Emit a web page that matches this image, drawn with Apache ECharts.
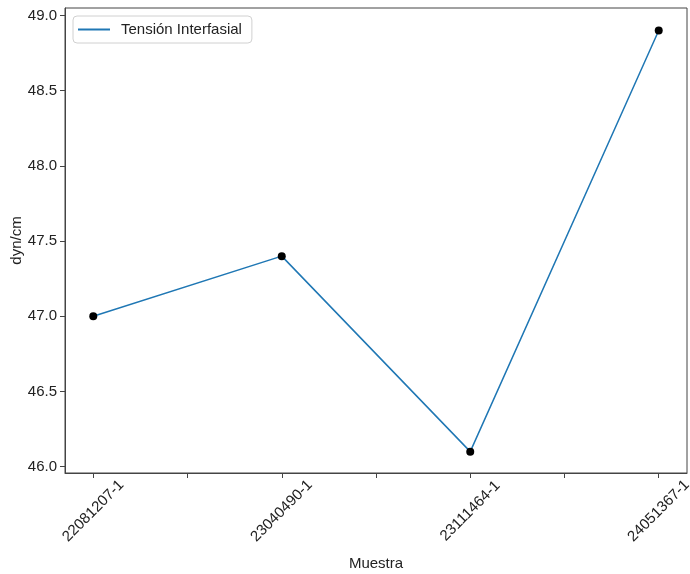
<!DOCTYPE html>
<html><head><meta charset="utf-8">
<script src="https://cdn.jsdelivr.net/npm/echarts@6/dist/echarts.min.js"></script>
<style>html,body{margin:0;padding:0;background:#fff}#c{width:690px;height:574px}</style>
</head><body><div id="c"></div>
<script>
const categories = ['22081207-1', '23040490-1', '23111464-1', '24051367-1'];
const values = [47.0, 47.4, 46.1, 48.9];
const yTicks = [46.0, 46.5, 47.0, 47.5, 48.0, 48.5, 49.0];
const xTicks = [0, 0.5, 1, 1.5, 2, 2.5, 3];
const seriesName = 'Tensión Interfasial';

const pts = values.map((v, i) => [i, v]);
const font = 'Liberation Sans, Arial, Helvetica, sans-serif';
const chart = echarts.init(document.getElementById('c'), null, {renderer: 'canvas'});
chart.setOption({
  animation: false,
  textStyle: {fontFamily: font},
  grid: {left: 65, top: 8, right: 3, bottom: 101, show: true, borderColor: '#444', borderWidth: 1, containLabel: false, outerBoundsMode: 'none'},
  legend: {
    left: 73, top: 16, padding: [6, 10, 6, 5], borderColor: '#d0d0d0', borderWidth: 1, borderRadius: 4,
    itemWidth: 32, itemHeight: 2, itemGap: 10,
    data: [{name: seriesName, icon: 'rect', itemStyle: {color: '#1f77b4'}}],
    textStyle: {fontFamily: font, fontSize: 15, color: '#222', padding: [0, 0, 0, 6]}
  },
  xAxis: {
    type: 'value', min: -0.15, max: 3.15,
    name: 'Muestra', nameLocation: 'middle', nameGap: 83, nameMoveOverlap: false,
    nameTextStyle: {fontFamily: font, fontSize: 15, color: '#222'},
    splitLine: {show: false},
    axisLine: {show: true, onZero: false, lineStyle: {color: '#444'}},
    axisTick: {show: true, length: 5, customValues: xTicks, lineStyle: {color: '#444'}},
    axisLabel: {
      rotate: 45, margin: 38, align: 'center', verticalAlign: 'middle',
      fontFamily: font, fontSize: 15, color: '#222',
      customValues: [0, 1, 2, 3],
      formatter: v => categories[Math.round(v)] || ''
    }
  },
  yAxis: {
    type: 'value', min: 45.958, max: 49.05,
    name: 'dyn/cm', nameLocation: 'middle', nameGap: 41, nameRotate: 90, nameMoveOverlap: false,
    nameTextStyle: {fontFamily: font, fontSize: 15, color: '#222'},
    splitLine: {show: false},
    axisLine: {show: true, onZero: false, lineStyle: {color: '#444'}},
    axisTick: {show: true, length: 5, customValues: yTicks, lineStyle: {color: '#444'}},
    axisLabel: {
      margin: 8, fontFamily: font, fontSize: 15, color: '#222',
      customValues: yTicks,
      formatter: v => v.toFixed(1)
    }
  },
  series: [
    {name: seriesName, type: 'line', data: pts, symbol: 'none', lineStyle: {color: '#1f77b4', width: 1.5}, itemStyle: {color: '#1f77b4'}},
    {name: 'pts', type: 'scatter', data: pts, symbol: 'circle', symbolSize: 8, itemStyle: {color: '#000', opacity: 1}, z: 5}
  ]
});
</script></body></html>
